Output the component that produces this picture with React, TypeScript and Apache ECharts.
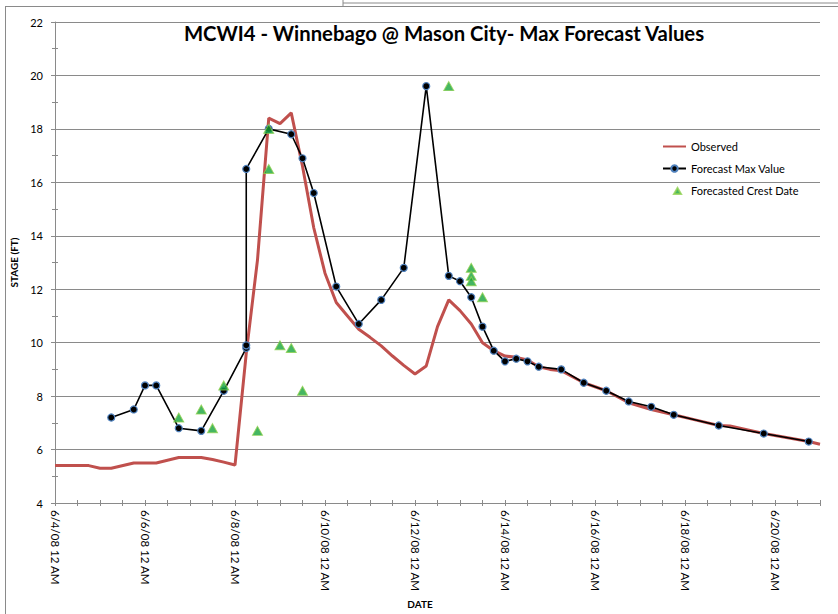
import React, { useEffect, useRef } from 'react';
import * as echarts from 'echarts';

const START = '2008-06-04 00:00';

const observedTimes = [
  '2008-06-04 00:00', '2008-06-04 18:00', '2008-06-05 00:00', '2008-06-05 06:00', '2008-06-05 18:00',
  '2008-06-06 06:00', '2008-06-06 18:00', '2008-06-07 06:00', '2008-06-07 12:00', '2008-06-07 18:00',
  '2008-06-08 00:00', '2008-06-08 06:00', '2008-06-08 12:00', '2008-06-08 18:00', '2008-06-09 00:00',
  '2008-06-09 06:00', '2008-06-09 12:00', '2008-06-09 18:00', '2008-06-10 00:00', '2008-06-10 06:00',
  '2008-06-10 12:00', '2008-06-10 18:00', '2008-06-11 00:00', '2008-06-11 06:00', '2008-06-11 12:00',
  '2008-06-11 18:00', '2008-06-12 00:00', '2008-06-12 06:00', '2008-06-12 12:00', '2008-06-12 18:00',
  '2008-06-13 00:00', '2008-06-13 06:00', '2008-06-13 12:00', '2008-06-13 18:00', '2008-06-14 00:00',
  '2008-06-14 06:00', '2008-06-14 12:00', '2008-06-14 18:00', '2008-06-15 00:00', '2008-06-15 06:00',
  '2008-06-15 18:00', '2008-06-16 00:00', '2008-06-16 06:00', '2008-06-16 18:00', '2008-06-17 06:00',
  '2008-06-17 18:00', '2008-06-18 06:00', '2008-06-18 18:00', '2008-06-19 00:00', '2008-06-19 18:00',
  '2008-06-20 06:00', '2008-06-20 18:00', '2008-06-21 00:00',
];
const observedValues = [
  5.4, 5.4, 5.3, 5.3, 5.5,
  5.5, 5.7, 5.7, 5.63, 5.53,
  5.42, 9.6, 13.1, 18.4, 18.2,
  18.6, 16.6, 14.3, 12.6, 11.5,
  11.0, 10.5, 10.2, 9.88, 9.5,
  9.15, 8.83, 9.13, 10.6, 11.6,
  11.2, 10.7, 10.0, 9.7, 9.5,
  9.45, 9.35, 9.1, 9.0, 8.95,
  8.5, 8.35, 8.2, 7.75, 7.5,
  7.3, 7.1, 6.9, 6.88, 6.6,
  6.45, 6.3, 6.2,
];

const forecastTimes = [
  '2008-06-05 06:00', '2008-06-05 18:00', '2008-06-06 00:00', '2008-06-06 06:00', '2008-06-06 18:00',
  '2008-06-07 06:00', '2008-06-07 18:00', '2008-06-08 06:00', '2008-06-08 06:00', '2008-06-08 06:00',
  '2008-06-08 18:00', '2008-06-09 06:00', '2008-06-09 12:00', '2008-06-09 18:00', '2008-06-10 06:00',
  '2008-06-10 18:00', '2008-06-11 06:00', '2008-06-11 18:00', '2008-06-12 06:00', '2008-06-12 18:00',
  '2008-06-13 00:00', '2008-06-13 06:00', '2008-06-13 12:00', '2008-06-13 18:00', '2008-06-14 00:00',
  '2008-06-14 06:00', '2008-06-14 12:00', '2008-06-14 18:00', '2008-06-15 06:00', '2008-06-15 18:00',
  '2008-06-16 06:00', '2008-06-16 18:00', '2008-06-17 06:00', '2008-06-17 18:00', '2008-06-18 18:00',
  '2008-06-19 18:00', '2008-06-20 18:00',
];
const forecastValues = [
  7.2, 7.5, 8.4, 8.4, 6.8,
  6.7, 8.2, 9.8, 9.9, 16.5,
  18.0, 17.8, 16.9, 15.6, 12.1,
  10.7, 11.6, 12.8, 19.6, 12.5,
  12.3, 11.7, 10.6, 9.7, 9.3,
  9.4, 9.3, 9.1, 9.0, 8.5,
  8.2, 7.8, 7.6, 7.3, 6.9,
  6.6, 6.3,
];

const crestTimes = [
  '2008-06-06 18:00', '2008-06-07 06:00', '2008-06-07 12:00', '2008-06-07 18:00', '2008-06-08 12:00',
  '2008-06-08 18:00', '2008-06-08 18:00', '2008-06-09 00:00', '2008-06-09 06:00', '2008-06-09 12:00',
  '2008-06-12 18:00', '2008-06-13 06:00', '2008-06-13 06:00', '2008-06-13 06:00', '2008-06-13 12:00',
];
const crestValues = [
  7.2, 7.5, 6.8, 8.4, 6.7,
  18.0, 16.5, 9.9, 9.8, 8.2,
  19.6, 12.8, 12.5, 12.3, 11.7,
];

const seriesNames = ['Observed', 'Forecast Max Value', 'Forecasted Crest Date'];
const titleText = 'MCWI4 - Winnebago @ Mason City- Max Forecast Values';
const yAxisTitle = 'STAGE (FT)';
const xAxisTitle = 'DATE';

const toMs = (s: string) => Date.parse(s.replace(' ', 'T') + ':00Z');
const DAY = 86400000;
const toDay = (s: string) => (toMs(s) - toMs(START)) / DAY;
const pairs = (times: string[], values: number[]) => times.map((t, i) => [toDay(t), values[i]]);

const dayLabel = (d: number) => {
  if (Math.abs(d - Math.round(d)) > 1e-6) return '';
  const r = Math.round(d);
  if (r % 2 !== 0) return '';
  const dt = new Date(toMs(START) + r * DAY);
  return `${dt.getUTCMonth() + 1}/${dt.getUTCDate()}/08 12 AM`;
};

const FONT = 'Lato, "Liberation Sans", sans-serif';
const GRAY = '#8a8a8a';
const TRIANGLE_ICON = 'path://M0,0M23,8M11,7.5L14.5,1.5L18,7.5Z';

export default function App() {
  const ref = useRef<HTMLDivElement>(null);
  useEffect(() => {
    if (!ref.current) return;
    const chart = echarts.init(ref.current, undefined, { renderer: 'svg' });
    const option: any = {
      animation: false,
      backgroundColor: '#fff',
      textStyle: { fontFamily: FONT },
      title: {
        text: titleText,
        left: 444,
        top: 23,
        padding: 0,
        textAlign: 'center',
        textStyle: { fontFamily: FONT, fontSize: 20.3, fontWeight: 'bold', color: '#000' },
      },
      legend: {
        orient: 'vertical',
        left: 662,
        top: 141,
        padding: 0,
        itemWidth: 23,
        itemHeight: 8,
        itemGap: 11,
        textStyle: { fontFamily: FONT, fontSize: 11, color: '#000' },
        data: [
          { name: seriesNames[0], itemStyle: { opacity: 0 } },
          { name: seriesNames[1] },
          { name: seriesNames[2], icon: TRIANGLE_ICON },
        ],
      },
      grid: { left: 55, top: 22, width: 765, height: 481, containLabel: false, outerBoundsMode: 'none' },
      xAxis: [
        {
          type: 'value', min: 0, max: 17, interval: 0.5,
          name: xAxisTitle, nameLocation: 'middle', nameGap: 93,
          nameTextStyle: { fontFamily: FONT, fontSize: 10, fontWeight: 'bold', color: '#000', padding: [0, 35, 0, 0] },
          axisLine: { show: true, lineStyle: { color: GRAY, width: 1 } },
          axisTick: { show: true, length: 3, lineStyle: { color: GRAY } },
          axisLabel: { rotate: -90, margin: 7, fontFamily: FONT, fontSize: 11.5, color: '#000', formatter: dayLabel, hideOverlap: false },
          splitLine: { show: false },
        },
        {
          type: 'value', min: 0, max: 17, interval: 0.5, position: 'bottom',
          axisLine: { show: false },
          axisTick: { show: true, inside: true, length: 3, lineStyle: { color: GRAY } },
          axisLabel: { show: false },
          splitLine: { show: false },
        },
      ],
      yAxis: [
        {
          type: 'value', min: 4, max: 22, interval: 2,
          name: yAxisTitle, nameLocation: 'middle', nameGap: 35, nameRotate: 90,
          nameTextStyle: { fontFamily: FONT, fontSize: 10, fontWeight: 'bold', color: '#000' },
          axisLine: { show: true, lineStyle: { color: GRAY, width: 1 } },
          axisTick: { show: true, length: 4, lineStyle: { color: GRAY } },
          minorTick: { show: true, splitNumber: 2, length: 3, lineStyle: { color: GRAY } },
          axisLabel: { margin: 12, fontFamily: FONT, fontSize: 11, color: '#000' },
          splitLine: { show: true, lineStyle: { color: GRAY, width: 1 } },
        },
        {
          type: 'value', min: 4, max: 22, interval: 2, position: 'left',
          axisLine: { show: false },
          axisTick: { show: false, inside: true },
          minorTick: { show: true, splitNumber: 2, length: 3, lineStyle: { color: GRAY } },
          axisLabel: { show: false },
          splitLine: { show: false },
        },
      ],
      graphic: [
        { type: 'line', shape: { x1: 5, y1: 6.5, x2: 838, y2: 6.5 }, style: { stroke: GRAY, lineWidth: 1 }, silent: true },
        { type: 'line', shape: { x1: 343, y1: 3, x2: 838, y2: 3 }, style: { stroke: GRAY, lineWidth: 1 }, silent: true },
        { type: 'line', shape: { x1: 343, y1: 0, x2: 343, y2: 6.5 }, style: { stroke: GRAY, lineWidth: 1 }, silent: true },
        { type: 'line', shape: { x1: 5.5, y1: 6.5, x2: 5.5, y2: 614 }, style: { stroke: GRAY, lineWidth: 1 }, silent: true },
      ],
      series: [
        {
          name: seriesNames[0], type: 'line', xAxisIndex: 0, yAxisIndex: 0,
          data: pairs(observedTimes, observedValues),
          showSymbol: false, symbol: 'none',
          lineStyle: { color: '#c0504d', width: 3 },
          itemStyle: { color: '#c0504d' },
          z: 2,
        },
        {
          name: seriesNames[1], type: 'line', xAxisIndex: 0, yAxisIndex: 0,
          data: pairs(forecastTimes, forecastValues),
          symbol: 'circle', symbolSize: 7, showAllSymbol: true,
          lineStyle: { color: '#000', width: 1.6 },
          itemStyle: { color: '#000', borderColor: '#4f81bd', borderWidth: 1.2 },
          z: 3,
        },
        {
          name: seriesNames[2], type: 'scatter', xAxisIndex: 0, yAxisIndex: 0,
          data: pairs(crestTimes, crestValues),
          symbol: 'triangle', symbolSize: [10, 9],
          itemStyle: { color: '#17a43b', borderColor: '#8fd14f', borderWidth: 1 },
          z: 4,
        },
      ],
    };
    chart.setOption(option);
    return () => chart.dispose();
  }, []);
  return <div ref={ref} style={{ position: 'fixed', left: 0, top: 0, width: 838, height: 614 }} />;
}
